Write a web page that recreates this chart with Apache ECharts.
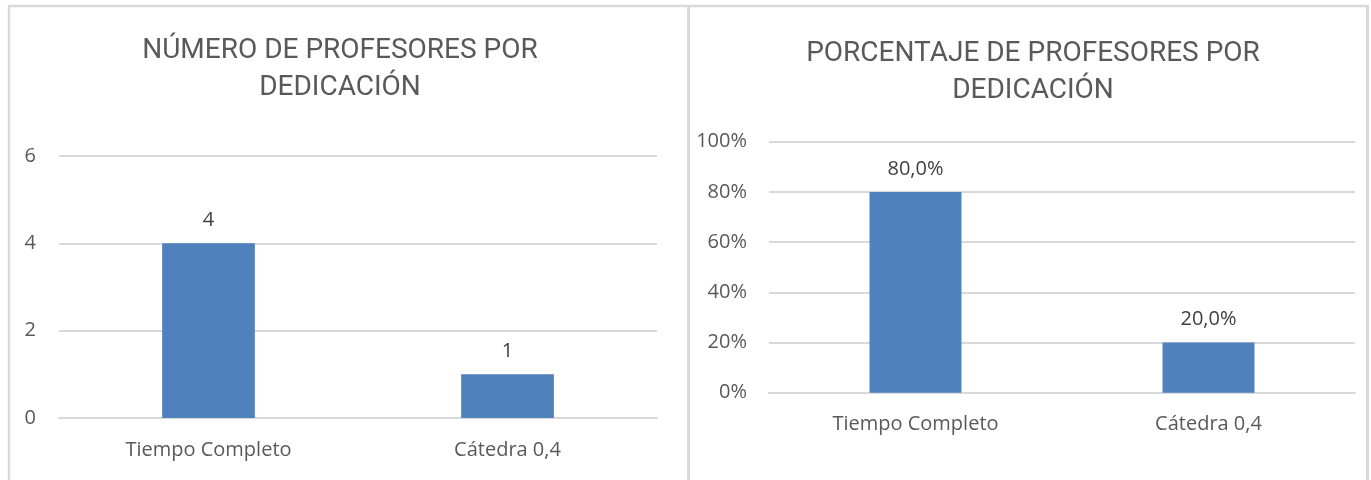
<!DOCTYPE html>
<html>
<head>
<meta charset="utf-8">
<script src="https://cdn.jsdelivr.net/npm/echarts@6/dist/echarts.min.js"></script>
<style>
  html, body { margin: 0; padding: 0; background: #fff; }
  #main { width: 1371px; height: 480px; }
</style>
</head>
<body>
<div id="main"></div>
<script>
  // datos
  const categorias = ['Tiempo Completo', 'Cátedra 0,4']
  const numeroProfesores = [4, 1]
  const porcentajeProfesores = [0.8, 0.2]
  const ticksNumero = [0, 2, 4, 6]
  const ticksPorcentaje = ['0%', '20%', '40%', '60%', '80%', '100%']

  const tituloIzq = 'NÚMERO DE PROFESORES POR\nDEDICACIÓN'
  const tituloDer = 'PORCENTAJE DE PROFESORES POR\nDEDICACIÓN'

  const gris = '#D9D9D9'
  const azul = '#4F81BD'
  const fuente = '"Open Sans", "Noto Sans", sans-serif'

  const myChart = echarts.init(document.getElementById('main'))

  const ejeX = (gridIndex, margin) => ({
    type: 'category',
    gridIndex: gridIndex,
    data: categorias,
    axisTick: { show: false },
    axisLine: { lineStyle: { color: gris, width: 2 } },
    axisLabel: { color: '#595959', fontSize: 20, fontFamily: fuente, margin: margin }
  })

  const estiloTitulo = { color: '#595959', fontSize: 28, fontWeight: 'normal', fontFamily: 'Roboto, sans-serif', lineHeight: 37 }

  const option = {
    animation: false,
    backgroundColor: '#fff',
    title: [
      { text: tituloIzq, left: 335, top: 27, textAlign: 'center', textStyle: estiloTitulo },
      { text: tituloDer, left: 1028, top: 30, textAlign: 'center', textStyle: estiloTitulo }
    ],
    grid: [
      { left: 59, width: 598, top: 156, height: 262 },
      { left: 769, width: 586, top: 141.7, height: 251 }
    ],
    xAxis: [ejeX(0, 22), ejeX(1, 22)],
    yAxis: [
      {
        type: 'value',
        gridIndex: 0,
        min: ticksNumero[0],
        max: ticksNumero[ticksNumero.length - 1],
        interval: 2,
        axisLine: { show: false },
        axisTick: { show: false },
        splitLine: { lineStyle: { color: gris, width: 2 } },
        axisLabel: { color: '#595959', fontSize: 20, fontFamily: fuente, margin: 23 }
      },
      {
        type: 'value',
        gridIndex: 1,
        min: 0,
        max: 1,
        interval: 0.2,
        axisLine: { show: false },
        axisTick: { show: false },
        splitLine: { lineStyle: { color: gris, width: 2 } },
        axisLabel: {
          color: '#595959', fontSize: 20, fontFamily: fuente, margin: 22,
          formatter: function (v) { return ticksPorcentaje[Math.round(v * 5)] }
        }
      }
    ],
    series: [
      {
        type: 'bar',
        xAxisIndex: 0,
        yAxisIndex: 0,
        data: numeroProfesores,
        barWidth: '31%',
        itemStyle: { color: azul },
        label: {
          show: true, position: 'top', distance: 13,
          color: '#404040', fontSize: 20, fontFamily: fuente
        }
      },
      {
        type: 'bar',
        xAxisIndex: 1,
        yAxisIndex: 1,
        data: porcentajeProfesores,
        barWidth: '31.4%',
        itemStyle: { color: azul },
        label: {
          show: true, position: 'top', distance: 13,
          color: '#404040', fontSize: 20, fontFamily: fuente,
          formatter: function (p) { return (p.value * 100).toFixed(1).replace('.', ',') + '%' }
        }
      }
    ],
    // marcos de los dos graficos
    graphic: [
      { type: 'line', shape: { x1: 8, y1: 6, x2: 1369, y2: 6 }, style: { stroke: gris, lineWidth: 2.5 } },
      { type: 'line', shape: { x1: 9, y1: 5, x2: 9, y2: 480 }, style: { stroke: gris, lineWidth: 2.5 } },
      { type: 'line', shape: { x1: 688.5, y1: 5, x2: 688.5, y2: 480 }, style: { stroke: gris, lineWidth: 3 } },
      { type: 'line', shape: { x1: 1367.5, y1: 5, x2: 1367.5, y2: 480 }, style: { stroke: gris, lineWidth: 3 } }
    ]
  }

  myChart.setOption(option, true)
</script>
</body>
</html>
